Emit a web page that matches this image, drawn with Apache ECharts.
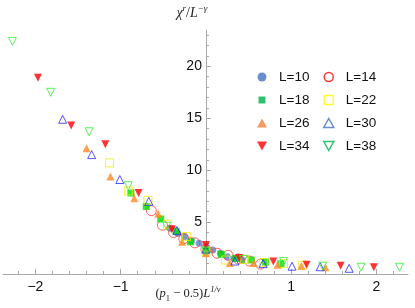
<!DOCTYPE html>
<html>
<head>
<meta charset="utf-8">
<script src="https://cdn.jsdelivr.net/npm/echarts@6/dist/echarts.min.js"></script>
<style>html,body{margin:0;padding:0;background:#fff}#c{width:415px;height:308px}</style>
</head>
<body>
<div id="c"></div>
<script>
// ---- data ----
const NAMES = ['L=10','L=14','L=18','L=22','L=26','L=30','L=34','L=38'];

const X_L10 = [-0.42,-0.33,-0.25,-0.17,-0.08,0,0.08,0.17,0.25,0.33,0.42];
const Y_L10 = [4.4,3.9,3.6,3.2,2.95,2.6,2.3,2.0,1.65,1.5,1.35];

const X_L14 = [-0.64,-0.51,-0.38,-0.26,-0.13,0,0.13,0.26,0.38,0.51,0.64];
const Y_L14 = [6.1,4.7,4.0,3.4,3.0,2.4,2.0,1.8,1.45,1.25,0.95];

const X_L18 = [-0.88,-0.70,-0.53,-0.35,-0.18,0,0.18,0.35,0.53,0.70,0.88];
const Y_L18 = [7.8,6.5,5.3,4.1,3.1,2.3,1.9,1.5,1.35,1.15,1.0];

const X_L22 = [-1.13,-0.91,-0.68,-0.45,-0.23,0,0.23,0.45,0.68,0.91,1.13];
const Y_L22 = [10.7,8.0,7.1,4.8,3.6,2.2,1.35,1.4,1.1,1.0,0.85];

const X_L26 = [-1.40,-1.12,-0.84,-0.56,-0.28,0,0.28,0.56,0.84,1.12,1.40];
const Y_L26 = [12.1,9.4,7.3,5.8,3.1,2.0,1.05,1.05,0.9,0.8,0.65];

const X_L30 = [-1.68,-1.34,-1.01,-0.67,-0.34,0,0.34,0.67,1.01,1.34,1.68];
const Y_L30 = [14.9,11.5,9.1,7.0,4.2,2.4,1.25,1.0,0.75,0.7,0.55];

const X_L34 = [-1.97,-1.58,-1.18,-0.79,-0.40,0,0.39,0.79,1.18,1.58,1.97];
const Y_L34 = [18.9,14.3,12.5,7.8,4.3,2.8,1.55,1.2,0.9,0.8,0.65];

const X_L38 = [-2.27,-1.82,-1.37,-0.91,-0.46,0,0.44,0.91,1.37,1.82,2.27];
const Y_L38 = [22.4,17.5,13.7,8.5,4.6,2.2,1.4,1.2,0.75,0.65,0.65];

// ---- axes / ticks ----
const X_MIN = -2.38, X_MAX = 2.37;
const Y_MIN = 0, Y_MAX = 23.5;
const X_LABELS = [-2,-1,1,2];
const X_MAJOR = [-2,-1,1,2];
const X_MINOR = [-2.2,-1.8,-1.6,-1.4,-1.2,-0.8,-0.6,-0.4,-0.2,0.2,0.4,0.6,0.8,1.2,1.4,1.6,1.8,2.2];
const Y_LABELS = [5,10,15,20];
const Y_MAJOR = [5,10,15,20];
const Y_MINOR = [1,2,3,4,6,7,8,9,11,12,13,14,16,17,18,19,21,22,23];

const XS = [X_L10,X_L14,X_L18,X_L22,X_L26,X_L30,X_L34,X_L38];
const YS = [Y_L10,Y_L14,Y_L18,Y_L22,Y_L26,Y_L30,Y_L34,Y_L38];

const DOWN = 'path://M0,0L10,0L5,9Z';
// legend icons drawn inside a 24x10 box (the leading moves fix the box)
const BOX = 'path://M0,0M24,10';
const LG_CIRCLE = BOX + 'M16.5,5A4.5,4.5,0,1,1,7.5,5A4.5,4.5,0,1,1,16.5,5Z';
const LG_SQ_S = BOX + 'M8.5,1.5h7v7h-7Z';
const LG_SQ_L = BOX + 'M7.5,0.5h9v9h-9Z';
const LG_UP = BOX + 'M7,9.5L17,9.5L12,0.5Z';
const LG_DOWN = BOX + 'M7,0.5L17,0.5L12,9.5Z';

const STY = [
  {sym:'circle',   size:7,  fill:'#5b7fc7', stroke:null, lg:'#4472c4', icon:LG_CIRCLE},
  {sym:'circle',   size:10, fill:null, stroke:'#ff3b3b', lg:'#ff0000', icon:LG_CIRCLE},
  {sym:'rect',     size:7,  fill:'#00e000', stroke:null, lg:'#00b050', icon:LG_SQ_S},
  {sym:'rect',     size:8,  fill:null, stroke:'#eded00', lg:'#ffff00', icon:LG_SQ_L},
  {sym:'triangle', size:8,  fill:'#ff8a1f', stroke:null, lg:'#f4823a', icon:LG_UP},
  {sym:'triangle', size:8,  fill:null, stroke:'#2b2bff', lg:'#4472c4', icon:LG_UP},
  {sym:DOWN,       size:8,  fill:'#ff0000', stroke:null, lg:'#ff0000', icon:LG_DOWN},
  {sym:DOWN,       size:8,  fill:null, stroke:'#33ee33', lg:'#00b050', icon:LG_DOWN}
];

function pairs(xs, ys){ return xs.map((x,i)=>[x, ys[i]]); }
function itemStyle(s){
  return s.fill ? {color:s.fill, borderWidth:0}
                : {color:'rgba(0,0,0,0)', borderColor:s.stroke, borderWidth:1};
}

const series = NAMES.map((n,i)=>({
  name:n, type:'scatter', data:pairs(XS[i],YS[i]),
  xAxisIndex:0, yAxisIndex:0,
  symbol:STY[i].sym, symbolSize:STY[i].size,
  itemStyle:itemStyle(STY[i]),
  emphasis:{disabled:true}, silent:true, z:2+i
}));

function legendData(idx){
  return idx.map(i=>{
    const s = STY[i];
    const st = s.fill ? {color:s.lg, borderWidth:0} : {color:'rgba(0,0,0,0)', borderColor:s.lg, borderWidth:1.5};
    return {name:NAMES[i], icon:s.icon, itemStyle:st};
  });
}
const legendCommon = {
  orient:'vertical', itemWidth:24, itemHeight:10, itemGap:9,
  textStyle:{fontFamily:'Liberation Sans', fontSize:13.5, color:'#111'},
  selectedMode:false, top:65
};

// grid layout
const G_LEFT = 3, G_RIGHT = 7, G_TOP = 30, G_BOTTOM = 34, W = 415;
const zeroPx = G_LEFT + (0 - X_MIN) / (X_MAX - X_MIN) * (W - G_LEFT - G_RIGHT);

const axisGray = '#a8a8a8';
const labelFont = {fontFamily:'Liberation Sans', fontSize:14, color:'#111'};
const fmt = v => (v<0 ? '\u2212'+(-v) : String(v));

const option = {
  animation:false,
  grid:[
    {left:G_LEFT, right:G_RIGHT, top:G_TOP, bottom:G_BOTTOM, containLabel:false, outerBoundsMode:'none'},
    {left:zeroPx, width:20, top:G_TOP, bottom:G_BOTTOM, containLabel:false, outerBoundsMode:'none'}
  ],
  legend:[
    Object.assign({}, legendCommon, {left:245, data:legendData([0,2,4,6])}),
    Object.assign({}, legendCommon, {left:311, data:legendData([1,3,5,7])})
  ],
  xAxis:[
    {type:'value', gridIndex:0, min:X_MIN, max:X_MAX, position:'bottom',
     axisLine:{onZero:false, lineStyle:{color:axisGray, width:1}},
     axisTick:{show:true, inside:true, length:3, customValues:X_MINOR, lineStyle:{color:axisGray}},
     axisLabel:Object.assign({customValues:X_LABELS, formatter:fmt, margin:6}, labelFont),
     splitLine:{show:false},
     name:'{n|(}{i|p}{sub|1}{n| \u2212 0.5)}{i|L}{sup|1/\u03bd}',
     nameLocation:'middle', nameGap:11, nameMoveOverlap:false,
     nameTextStyle:{padding:[0,35,0,0], rich:{
       n:{fontFamily:'Liberation Serif', fontSize:12.5, color:'#222', lineHeight:18, verticalAlign:'middle'},
       i:{fontFamily:'Liberation Serif', fontStyle:'italic', fontSize:12.5, color:'#222', lineHeight:18, verticalAlign:'middle'},
       sub:{fontFamily:'Liberation Serif', fontSize:8.5, color:'#222', lineHeight:10, verticalAlign:'bottom'},
       sup:{fontFamily:'Liberation Serif', fontStyle:'italic', fontSize:8.5, color:'#222', lineHeight:10, verticalAlign:'top'}
     }}
    },
    {type:'value', gridIndex:0, min:X_MIN, max:X_MAX, position:'bottom',
     axisLine:{show:false, onZero:false},
     axisTick:{show:true, inside:true, length:5, customValues:X_MAJOR, lineStyle:{color:axisGray}},
     axisLabel:{show:false}, splitLine:{show:false}},
    {type:'value', gridIndex:1, min:0, max:1, show:false}
  ],
  yAxis:[
    {type:'value', gridIndex:0, min:Y_MIN, max:Y_MAX, show:false},
    {type:'value', gridIndex:1, min:Y_MIN, max:Y_MAX, position:'left',
     axisLine:{show:true, onZero:false, lineStyle:{color:axisGray, width:1}},
     axisTick:{show:true, inside:true, length:3, customValues:Y_MINOR, lineStyle:{color:axisGray}},
     axisLabel:Object.assign({customValues:Y_LABELS, margin:4}, labelFont),
     splitLine:{show:false},
     name:'{i|\u03c7}{sup|r}{n|/}{i|L}{sup|\u2212\u03b3}',
     nameLocation:'end', nameGap:8, nameMoveOverlap:false,
     nameTextStyle:{padding:[0,28,0,0], rich:{
       n:{fontFamily:'Liberation Serif', fontSize:14, color:'#222', lineHeight:18, verticalAlign:'middle'},
       i:{fontFamily:'Liberation Serif', fontStyle:'italic', fontSize:14, color:'#222', lineHeight:18, verticalAlign:'middle'},
       sup:{fontFamily:'Liberation Serif', fontStyle:'italic', fontSize:9, color:'#222', lineHeight:10, verticalAlign:'top'}
     }}
    },
    {type:'value', gridIndex:1, min:Y_MIN, max:Y_MAX, position:'left',
     axisLine:{show:false, onZero:false},
     axisTick:{show:true, inside:true, length:5, customValues:Y_MAJOR, lineStyle:{color:axisGray}},
     axisLabel:{show:false}, splitLine:{show:false}}
  ],
  series:series
};

const chart = echarts.init(document.getElementById('c'), null, {renderer:'canvas'});
chart.setOption(option);
</script>
</body>
</html>
